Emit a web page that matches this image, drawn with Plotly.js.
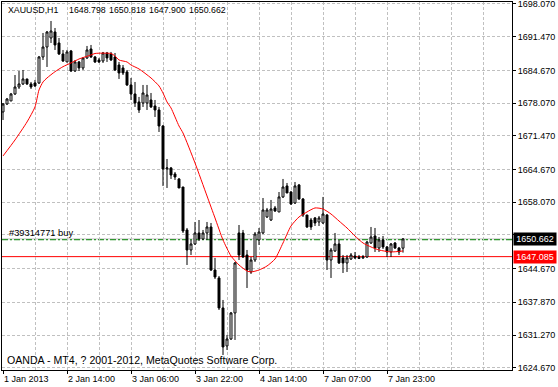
<!DOCTYPE html>
<html><head><meta charset="utf-8">
<script src="https://cdn.plot.ly/plotly-3.0.1.min.js"></script>
<style>html,body{margin:0;padding:0;background:#fff;}#chart{width:558px;height:387px;}</style>
</head><body><div id="chart"></div>
<script>
// ---- data (XAUUSD H1) ----
const openP  = [1676.28,1677.89,1678.50,1679.91,1681.32,1681.93,1682.94,1681.93,1682.13,1682.13,
1687.38,1689.39,1691.21,1692.42,1690.20,1687.98,1686.37,1688.59,1684.55,1686.37,
1685.16,1687.18,1688.99,1687.38,1686.77,1686.57,1688.18,1687.98,1687.38,1685.76,
1685.16,1684.35,1681.73,1679.91,1678.30,1678.09,1678.09,1678.70,1677.49,1676.68,
1673.45,1664.78,1664.98,1663.77,1662.76,1661.14,1652.47,1648.43,1649.64,1651.86,
1650.65,1651.86,1653.07,1644.39,1642.78,1636.73,1629.06,1630.47,1635.72,1651.86,
1651.86,1647.42,1643.99,1646.41,1650.45,1651.86,1655.09,1654.48,1656.91,1656.10,
1659.13,1661.35,1660.13,1657.91,1661.55,1658.72,1655.49,1654.48,1654.89,1654.08,
1653.88,1655.49,1646.41,1648.23,1649.64,1646.82,1645.81,1646.61,1647.22,1647.02,
1646.82,1647.02,1649.84,1651.25,1648.83,1650.45,1649.04,1648.03,1649.84,1648.83,
1648.798];
const highP  = [1678.09,1679.10,1680.11,1683.74,1684.55,1684.75,1682.94,1682.33,1682.74,1687.58,
1692.22,1692.62,1694.64,1693.23,1691.21,1688.79,1688.79,1688.79,1686.77,1686.57,
1687.18,1689.60,1689.80,1687.58,1687.18,1688.39,1688.39,1688.39,1688.18,1686.37,
1685.76,1684.75,1683.14,1682.33,1679.31,1681.73,1681.73,1680.11,1678.70,1677.29,
1673.65,1666.79,1665.18,1664.17,1662.96,1661.14,1652.87,1650.45,1654.08,1654.48,
1652.47,1654.08,1653.88,1646.82,1643.18,1638.34,1631.28,1635.92,1646.01,1653.47,
1652.47,1648.43,1647.02,1652.06,1652.87,1658.92,1656.91,1658.52,1657.31,1660.13,
1662.76,1661.95,1660.34,1662.15,1661.75,1658.92,1655.49,1654.89,1655.09,1655.29,
1659.13,1655.69,1648.83,1651.86,1650.45,1647.42,1647.42,1647.82,1648.03,1647.42,
1647.42,1650.25,1653.07,1652.87,1651.05,1651.25,1649.24,1649.84,1650.04,1649.04,
1650.818];
const lowP   = [1674.66,1677.69,1678.50,1679.71,1680.92,1681.73,1681.73,1680.92,1681.32,1681.93,
1686.77,1685.36,1690.20,1688.79,1687.78,1686.37,1686.37,1684.35,1684.35,1684.55,
1684.75,1686.97,1687.18,1686.17,1686.17,1686.17,1686.37,1686.57,1684.55,1682.94,
1683.74,1681.53,1678.70,1677.29,1676.08,1677.29,1676.68,1677.09,1675.27,1672.24,
1661.35,1660.94,1662.76,1662.56,1660.94,1651.86,1645.40,1647.42,1649.44,1650.25,
1650.45,1650.45,1644.19,1642.58,1636.32,1627.24,1628.25,1630.27,1630.27,1646.41,
1646.82,1640.76,1643.59,1646.01,1649.44,1651.66,1654.89,1654.28,1656.10,1656.10,
1658.92,1659.93,1657.51,1657.71,1658.52,1655.09,1652.87,1652.47,1653.27,1653.27,
1653.68,1644.39,1642.78,1648.03,1645.60,1643.79,1643.99,1646.41,1646.61,1646.61,
1646.61,1646.82,1649.64,1648.03,1648.03,1648.63,1647.02,1647.02,1648.63,1647.42,
1647.900];
const closeP = [1677.89,1678.90,1679.91,1681.32,1681.93,1682.94,1681.93,1681.32,1681.53,1687.38,
1689.39,1692.42,1692.62,1689.80,1687.98,1686.57,1688.39,1684.55,1686.37,1685.16,
1687.18,1688.79,1687.38,1686.37,1686.37,1688.18,1687.18,1686.77,1684.75,1684.15,
1684.15,1681.73,1679.91,1678.09,1676.68,1680.11,1679.71,1677.29,1676.68,1673.45,
1664.78,1664.98,1663.56,1663.16,1660.94,1652.26,1648.43,1649.64,1651.86,1650.65,
1651.86,1653.07,1644.39,1642.98,1636.73,1628.86,1630.47,1635.72,1645.81,1647.42,
1647.02,1644.39,1646.41,1651.66,1652.06,1656.50,1656.50,1656.70,1656.30,1659.13,
1661.14,1659.93,1657.71,1661.35,1658.72,1655.49,1653.07,1653.07,1653.88,1654.89,
1655.69,1646.41,1648.43,1649.64,1645.81,1645.81,1646.82,1647.42,1646.82,1646.72,
1647.02,1650.04,1651.05,1648.83,1650.45,1649.04,1648.03,1649.64,1648.83,1648.03,
1650.662];
// moving average (red line), read at selected bars
const maBar = [0,3,6,8,9,10,11,13,15,17,19,22,23,27,28,29,31,32,34,37,39,40,41,42,44,45,48,51,53,55,57,59,61,62,64,66,68,70,72,74,76,78,80,82,84,86,88,90,92,94,97,100];
const maVal = [1667.40,1670.63,1674.26,1677.29,1680.72,1682.33,1683.14,1684.41,1685.42,1686.17,1686.97,1687.78,1688.08,1688.08,1687.58,1686.77,1686.37,1685.76,1684.96,1683.14,1681.53,1680.11,1678.30,1677.09,1673.45,1672.04,1665.99,1659.33,1654.89,1650.45,1647.22,1645.40,1644.19,1643.99,1644.39,1645.20,1646.61,1649.84,1653.27,1655.09,1656.10,1656.91,1656.70,1655.69,1654.28,1652.87,1651.25,1649.84,1649.04,1648.43,1648.03,1648.23];
// time axis labels
const timeBar = [0,16,32,48,64,80,96];
const timeText = ['1 Jan 2013','2 Jan 14:00','3 Jan 06:00','3 Jan 22:00','4 Jan 14:00','7 Jan 07:00','7 Jan 23:00'];
// price axis grid levels and labels (the level under the bid box has its label covered)
const priceVals = [1698.07,1691.47,1684.67,1678.07,1671.47,1664.67,1658.07,1651.47,1644.67,1637.87,1631.27,1624.67];
const priceText = ['1698.070','1691.470','1684.670','1678.070','1671.470','1664.670','1658.070','','1644.670','1637.870','1631.270','1624.670'];
// horizontal levels
const bidPrice = 1650.662;
const orderPrice = 1650.50;
const orderLabel = '#39314771 buy';
const redLevel = 1647.085;
// header: symbol + O H L C of last bar
const headerParts = ['XAUUSD,H1','1648.798','1650.818','1647.900','1650.662'];
const footerText = 'OANDA - MT4, ? 2001-2012, MetaQuotes Software Corp.';

const barIdx = openP.map((_, i) => i);
const FONT = 'Liberation Sans, Arial, sans-serif';
const FS = 9;
const PW = 510, PH = 368; // plot area size in px
const headerX = [7, 68, 108, 148, 188]; // left edges in px

const traces = [
  {type:'candlestick', x: barIdx, open: openP, high: highP, low: lowP, close: closeP,
   increasing:{fillcolor:'#ffffff', line:{color:'#000000', width:1}},
   decreasing:{fillcolor:'#000000', line:{color:'#000000', width:1}},
   whiskerwidth:0, hoverinfo:'skip', showlegend:false},
  {type:'scatter', mode:'lines', x: maBar, y: maVal, line:{color:'#ff0000', width:1, shape:'spline', smoothing:0.6},
   hoverinfo:'skip', showlegend:false}
];

const annotations = headerParts.map((t, k) => ({
  text: t, xref:'paper', yref:'paper', x:(headerX[k]-2)/PW, y:1-(10-2)/PH, xanchor:'left', yanchor:'middle',
  showarrow:false, borderpad:0, font:{family:FONT, size:8.8, color:'#000'}
}));
annotations.push(
  {text: footerText, xref:'paper', yref:'paper', x:(6-2)/PW, y:1-(360-2)/PH, xanchor:'left', yanchor:'middle', showarrow:false, borderpad:0, font:{family:FONT, size:10.6, color:'#000'}},
  {text: orderLabel, xref:'paper', yref:'y', x:(8-2)/PW, y:1651.9, xanchor:'left', yanchor:'middle', showarrow:false, borderpad:0, font:{family:FONT, size:9.3, color:'#000'}},
  {text: bidPrice.toFixed(3), xref:'paper', yref:'y', x:1, xshift:1, y:bidPrice, xanchor:'left', yanchor:'middle', showarrow:false,
   bgcolor:'#000000', font:{family:FONT, size:FS, color:'#ffffff'}, width:40, height:10, borderpad:1, align:'center'},
  {text: redLevel.toFixed(3), xref:'paper', yref:'y', x:1, xshift:1, y:redLevel, xanchor:'left', yanchor:'middle', showarrow:false,
   bgcolor:'#ff0000', font:{family:FONT, size:FS, color:'#ffffff'}, width:40, height:10, borderpad:1, align:'center'}
);

const layout = {
  width:558, height:387,
  margin:{l:2, r:46, t:2, b:17, pad:0},
  paper_bgcolor:'#ffffff', plot_bgcolor:'#ffffff',
  font:{family:FONT, size:FS, color:'#000000'},
  showlegend:false,
  xaxis:{range:[-0.25,127.25], rangeslider:{visible:false}, type:'linear',
    tickmode:'array', tickvals: timeBar, ticktext: timeText, tickangle:0,
    ticks:'outside', ticklen:3, tickcolor:'#000', ticklabelposition:'outside right',
    showline:true, linecolor:'#000', linewidth:1, mirror:true,
    showgrid:true, gridcolor:'#c0c0c0', griddash:'3px,2px', gridwidth:1,
    minor:{dtick:8, tick0:0, showgrid:true, gridcolor:'#c0c0c0', griddash:'3px,2px', gridwidth:1, ticks:''},
    zeroline:false, tickfont:{family:FONT, size:FS, color:'#000'}, fixedrange:true},
  yaxis:{range:[1624.21,1698.47], side:'right',
    tickmode:'array', tickvals: priceVals, ticktext: priceText,
    ticks:'outside', ticklen:3, tickcolor:'#000', ticklabeloverflow:'allow',
    showline:true, linecolor:'#000', linewidth:1, mirror:true,
    showgrid:true, gridcolor:'#c0c0c0', griddash:'3px,2px', gridwidth:1,
    zeroline:false, tickfont:{family:FONT, size:FS, color:'#000'}, fixedrange:true},
  shapes:[
    {type:'line', xref:'paper', x0:0, x1:1, yref:'y', y0:bidPrice, y1:bidPrice, line:{color:'#c0c0c0', width:1}, layer:'below'},
    {type:'line', xref:'paper', x0:0, x1:1, yref:'y', y0:orderPrice, y1:orderPrice, line:{color:'#008000', width:1, dash:'6px,2px,2px,2px'}, layer:'below'},
    {type:'line', xref:'paper', x0:0, x1:1, yref:'y', y0:redLevel, y1:redLevel, line:{color:'#ff0000', width:1}, layer:'below'}
  ],
  annotations: annotations
};

Plotly.newPlot('chart', traces, layout, {displayModeBar:false, staticPlot:true});
</script>
</body></html>
